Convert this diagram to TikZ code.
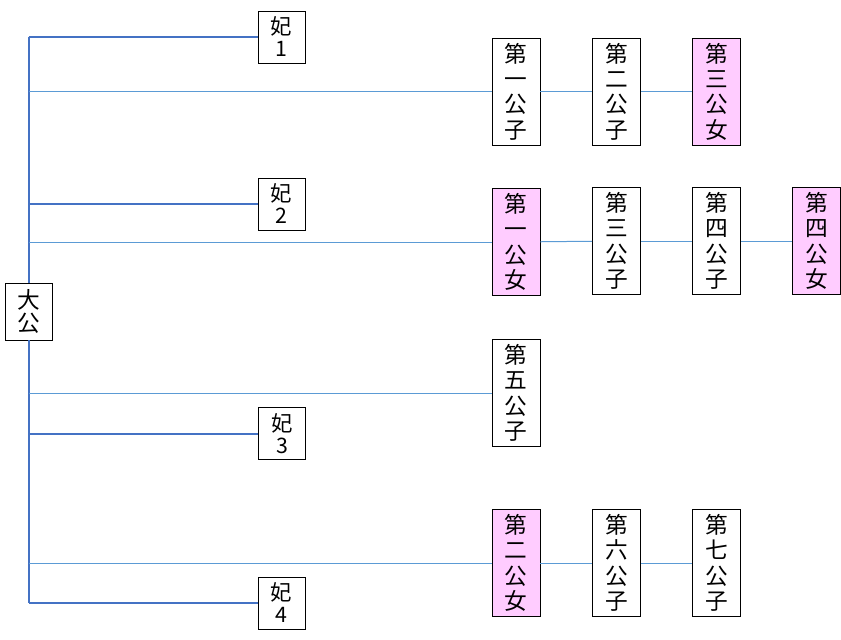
\documentclass[tikz,border=0pt]{standalone}
\usepackage{fontspec}
\newfontfamily\cjk{Noto Sans CJK JP}
\usepackage{tikz}
\usetikzlibrary{calc}
\definecolor{trunkblue}{HTML}{4472C4}
\definecolor{linkblue}{HTML}{5B9BD5}
\definecolor{girlpink}{HTML}{FFCCFF}
\tikzstyle{person}=[draw,fill=white,align=center,inner sep=0pt,text width=36pt,minimum height=80pt,font=\cjk\fontsize{17}{19}\selectfont]
\tikzstyle{daughter}=[person,fill=girlpink]
\tikzstyle{wife}=[person,text width=35pt,minimum height=39pt,font=\cjk\fontsize{16}{16.5}\selectfont]
\tikzstyle{duke}=[person,text width=35pt,minimum height=43pt,font=\cjk\fontsize{17}{17}\selectfont]
\tikzstyle{marriage} = [draw,trunkblue,line width=1.5pt]
\tikzstyle{descent} = [draw,linkblue,line width=0.75pt]

\begin{document}
\begin{tikzpicture}[x=0.75pt,y=-0.75pt]
    \useasboundingbox (0,0) rectangle (841,639);
    % First the duke and his wives
    \node[duke] (D) at (28.5,311.5) {大\\公};
    \foreach \pos/ \name/ \num in {{(281.5,37)/F1/1},{(281.5,204)/F2/2},{(282,433.5)/F3/3},{(281.5,603)/F4/4}}
        \node[wife] (\name) at \pos {妃\\\num};

    % Then the children, row by row
    \foreach \pos/ \name/ \txt in {{(516,91.5)/A1/第\\一\\公\\子},{(616.5,91.5)/A2/第\\二\\公\\子},
        {(616.5,241)/B2/第\\三\\公\\子},{(716.5,241)/B3/第\\四\\公\\子},
        {(516,393)/C1/第\\五\\公\\子},
        {(616.5,563)/E2/第\\六\\公\\子},{(716.5,563)/E3/第\\七\\公\\子}}
        \node[person] (\name) at \pos {\txt};

    \foreach \pos/ \name/ \txt in {{(716.5,91.5)/A3/第\\三\\公\\女},
        {(516,242)/B1/第\\一\\公\\女},{(816.5,241)/B4/第\\四\\公\\女},
        {(516,563)/E1/第\\二\\公\\女}}
        \node[daughter] (\name) at \pos {\txt};

    % The duke's line and his marriages
    \path[marriage] (D) -- (F1.west -| D);
    \path[marriage] (D) -- (F4.west -| D);
    \foreach \name in {F1,F2,F3,F4}
        \path[marriage] (\name.west -| D) -- (\name.west);

    % Descent lines
    \foreach \dest in {A1,B1,C1,E1}
        \path[descent] (\dest.west -| D) -- (\dest.west);
    \foreach \source/ \dest in {A1/A2, A2/A3, B1/B2, B2/B3, B3/B4, E1/E2, E2/E3}
        \path[descent] (\source) -- (\dest);
\end{tikzpicture}
\end{document}
